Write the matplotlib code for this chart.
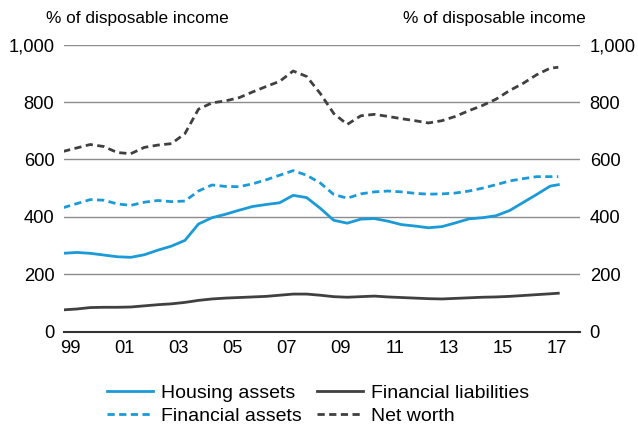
import numpy as np
import matplotlib.pyplot as plt

plt.rcParams['font.family'] = ['Liberation Sans', 'DejaVu Sans']

# half-yearly points, years as floats
years = list(np.arange(1998.75, 2017.0, 0.5)) + [2017.05]

housing_assets = [273, 276, 273, 267, 261, 259, 268, 284, 298, 318,
                  375, 397, 409, 423, 436, 443, 449, 475, 467, 430,
                  388, 378, 392, 394, 385, 373, 368, 362, 366, 379,
                  393, 397, 404, 422, 450, 478, 507, 512]
financial_assets = [432, 446, 460, 458, 445, 440, 451, 457, 453, 455,
                    490, 511, 506, 505, 515, 529, 545, 561, 545, 518,
                    478, 465, 480, 487, 490, 487, 482, 479, 480, 483,
                    490, 500, 512, 525, 533, 540, 540, 540]
net_worth = [628, 640, 652, 645, 624, 620, 642, 650, 655, 690,
             775, 797, 804, 815, 835, 854, 872, 908, 889, 830,
             760, 722, 752, 757, 750, 742, 735, 727, 735, 750,
             770, 788, 810, 840, 865, 895, 918, 921]
financial_liabilities = [76, 79, 84, 85, 85, 86, 90, 94, 97, 102,
                         109, 114, 117, 119, 121, 123, 127, 131, 131, 127,
                         122, 120, 122, 124, 121, 119, 117, 115, 114, 116,
                         118, 120, 121, 123, 126, 129, 132, 134]

xticks = list(range(1999, 2018, 2))
xtick_labels = ['99', '01', '03', '05', '07', '09', '11', '13', '15', '17']
yticks = [0, 200, 400, 600, 800, 1000]
ytick_labels = ['0', '200', '400', '600', '800', '1,000']

blue = '#1a9ad7'
dark = '#404040'
dash = (2.6, 1.6)

fig = plt.figure(figsize=(6.38, 4.26), dpi=100)
ax = fig.add_axes([0.1003, 0.2214, 0.8087, 0.6739])

l1, = ax.plot(years, housing_assets, color=blue, lw=2, label='Housing assets')
l2, = ax.plot(years, financial_liabilities, color=dark, lw=2, label='Financial liabilities')
l3, = ax.plot(years, financial_assets, color=blue, lw=2, dashes=dash, label='Financial assets')
l4, = ax.plot(years, net_worth, color=dark, lw=2, dashes=dash, label='Net worth')

ax.set_xlim(1998.78, 2017.85)
ax.set_ylim(0, 1000)
ax.set_xticks(xticks)
ax.set_xticklabels(xtick_labels)
ax.set_yticks(yticks)
ax.set_yticklabels(ytick_labels)
ax.tick_params(axis='both', length=0, labelsize=13.2, colors='black')
ax.tick_params(axis='x', pad=6)
ax.tick_params(axis='y', pad=7, labelright=True)
ax.yaxis.grid(True, color='#8c8c8c', lw=1)
ax.set_axisbelow(True)
for s in ['top', 'left', 'right']:
    ax.spines[s].set_visible(False)
ax.spines['bottom'].set_color('#333333')
ax.spines['bottom'].set_linewidth(1.5)

fig.text(46 / 638, 1 - 18 / 426, '% of disposable income', fontsize=12.4, va='center', ha='left')
fig.text(586 / 638, 1 - 18 / 426, '% of disposable income', fontsize=12.4, va='center', ha='right')

# column-wise fill: first column housing / financial assets
fig.legend([l1, l3, l2, l4], [l.get_label() for l in [l1, l3, l2, l4]],
           ncol=2, loc='upper left', bbox_to_anchor=(107 / 638, 1 - 384 / 426),
           frameon=False, fontsize=14, handlelength=2.37, handletextpad=0.41,
           columnspacing=0.78, labelspacing=0.3, borderaxespad=0, borderpad=0)

fig.savefig('out.png', dpi=100)
